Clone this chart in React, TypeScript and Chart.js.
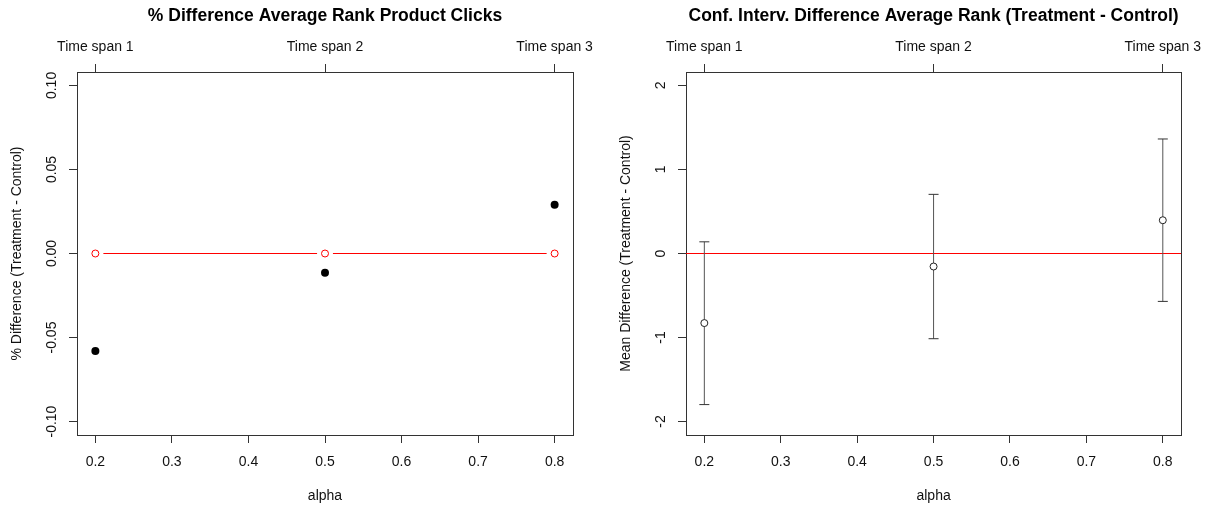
import React, { useEffect, useRef } from 'react';
import { Chart, registerables } from 'chart.js';

Chart.register(...registerables);

// ---------- data ----------
const ALPHAS = [0.2, 0.5, 0.8];
const TIME_SPAN_LABELS = ['Time span 1', 'Time span 2', 'Time span 3'];
const X_TICKS = [0.2, 0.3, 0.4, 0.5, 0.6, 0.7, 0.8];
const X_TICK_LABELS = ['0.2', '0.3', '0.4', '0.5', '0.6', '0.7', '0.8'];
const X_MIN = 0.176;
const X_MAX = 0.824;

const PCT_DIFF = [-0.058, -0.0115, 0.029];
const PCT_REFERENCE = [0, 0, 0];
const PCT_Y_TICKS = [-0.1, -0.05, 0, 0.05, 0.1];
const PCT_Y_TICK_LABELS = ['-0.10', '-0.05', '0.00', '0.05', '0.10'];
const PCT_Y_MIN = -0.108;
const PCT_Y_MAX = 0.108;

const MEAN_DIFF = [-0.828, -0.155, 0.396];
const CI_LOWER = [-1.798, -1.014, -0.57];
const CI_UPPER = [0.139, 0.704, 1.363];
const CI_Y_TICKS = [-2, -1, 0, 1, 2];
const CI_Y_TICK_LABELS = ['-2', '-1', '0', '1', '2'];
const CI_Y_MIN = -2.16;
const CI_Y_MAX = 2.16;
const ZERO_LINE = [0, 0];

const TITLE_LEFT = '% Difference Average Rank Product Clicks';
const TITLE_RIGHT = 'Conf. Interv. Difference Average Rank (Treatment - Control)';
const Y_TITLE_LEFT = '% Difference (Treatment - Control)';
const Y_TITLE_RIGHT = 'Mean Difference (Treatment - Control)';
const X_TITLE = 'alpha';

// ---------- styling ----------
const FONT = "'Liberation Sans', Arial, Helvetica, sans-serif";
const AXIS_COLOR = '#333333';
const TEXT_COLOR = '#111111';
const RED = '#ff0000';
const BAR_COLOR = '#555555';

type PanelCfg = {
  title: string;
  yTitle: string;
  yMin: number;
  yMax: number;
  yTicks: number[];
  yTickLabels: string[];
  leftWidth: number;
  rightPad: number;
  yLabelPad: number;
  yTitlePad: number;
};

function makeOptions(p: PanelCfg): any {
  const tickFont = { family: FONT, size: 14 };
  const setTicks = (vals: number[]) => (scale: any) => {
    scale.ticks = vals.map((v) => ({ value: v }));
  };
  const grid = () => ({
    display: true,
    drawOnChartArea: false,
    drawTicks: true,
    tickLength: 8,
    color: AXIS_COLOR,
    lineWidth: 1,
  });
  const border = () => ({ display: true, color: AXIS_COLOR, width: 1 });
  return {
    responsive: false,
    animation: false,
    events: [],
    layout: { padding: { left: 0, right: p.rightPad, top: 0, bottom: 0 } },
    plugins: {
      legend: { display: false },
      tooltip: { enabled: false },
      title: { display: false },
      colors: { enabled: false },
    },
    scales: {
      x: {
        type: 'linear',
        position: 'bottom',
        min: X_MIN,
        max: X_MAX,
        afterBuildTicks: setTicks(X_TICKS),
        afterFit: (s: any) => {
          s.height = 72;
        },
        ticks: {
          callback: (_v: any, i: number) => X_TICK_LABELS[i],
          font: tickFont,
          color: TEXT_COLOR,
          padding: 10.6,
          minRotation: 0,
          maxRotation: 0,
          autoSkip: false,
        },
        grid: grid(),
        border: border(),
        title: {
          display: true,
          text: X_TITLE,
          font: tickFont,
          color: TEXT_COLOR,
          padding: { top: 0, bottom: 2.6 },
        },
      },
      x2: {
        type: 'linear',
        position: 'top',
        min: X_MIN,
        max: X_MAX,
        afterBuildTicks: setTicks(ALPHAS),
        afterFit: (s: any) => {
          s.height = 72;
        },
        ticks: {
          callback: (_v: any, i: number) => TIME_SPAN_LABELS[i],
          font: tickFont,
          color: TEXT_COLOR,
          padding: 8.9,
          minRotation: 0,
          maxRotation: 0,
          autoSkip: false,
        },
        grid: grid(),
        border: border(),
        title: {
          display: true,
          text: p.title,
          font: { family: FONT, size: 17.5, weight: 'bold' },
          color: '#000000',
          padding: { top: 5.8, bottom: 0 },
        },
      },
      y: {
        type: 'linear',
        position: 'left',
        min: p.yMin,
        max: p.yMax,
        afterBuildTicks: setTicks(p.yTicks),
        afterFit: (s: any) => {
          s.width = p.leftWidth;
        },
        ticks: {
          callback: (_v: any, i: number) => p.yTickLabels[i],
          font: tickFont,
          color: TEXT_COLOR,
          padding: p.yLabelPad,
          minRotation: 90,
          maxRotation: 90,
          crossAlign: 'center',
          autoSkip: false,
        },
        grid: grid(),
        border: border(),
        title: {
          display: true,
          text: p.yTitle,
          font: tickFont,
          color: TEXT_COLOR,
          padding: { top: p.yTitlePad, bottom: 0 },
        },
      },
      y2: {
        type: 'linear',
        position: 'right',
        min: p.yMin,
        max: p.yMax,
        afterBuildTicks: setTicks(p.yTicks),
        afterFit: (s: any) => {
          s.width = 0;
        },
        ticks: { display: false },
        grid: { display: false, drawTicks: false },
        border: border(),
      },
    },
  };
}

function lineDataset(label: string, data: { x: number; y: number }[], color: string, order: number, extra: any = {}): any {
  return {
    type: 'line',
    label,
    xAxisID: 'x',
    yAxisID: 'y',
    data,
    borderColor: color,
    backgroundColor: color,
    borderWidth: 1,
    tension: 0,
    fill: false,
    pointRadius: 0,
    order,
    ...extra,
  };
}

function leftConfig(): any {
  const refPts = ALPHAS.map((a, i) => ({ x: a, y: PCT_REFERENCE[i] }));
  return {
    type: 'scatter',
    data: {
      datasets: [
        {
          type: 'scatter',
          label: 'difference',
          data: ALPHAS.map((a, i) => ({ x: a, y: PCT_DIFF[i] })),
          pointRadius: 4,
          pointBackgroundColor: '#000000',
          pointBorderColor: '#000000',
          pointBorderWidth: 0,
          showLine: false,
          order: 0,
        },
        {
          type: 'scatter',
          label: 'reference points',
          data: refPts,
          pointRadius: 3.5,
          pointBackgroundColor: '#ffffff',
          pointBorderColor: RED,
          pointBorderWidth: 1,
          showLine: false,
          order: 1,
        },
        {
          type: 'scatter',
          label: 'gap mask',
          data: refPts,
          pointRadius: 8,
          pointBackgroundColor: '#ffffff',
          pointBorderColor: '#ffffff',
          pointBorderWidth: 0,
          showLine: false,
          order: 2,
        },
        lineDataset('reference line', refPts, RED, 3),
      ],
    },
    options: makeOptions({
      title: TITLE_LEFT,
      yTitle: Y_TITLE_LEFT,
      yMin: PCT_Y_MIN,
      yMax: PCT_Y_MAX,
      yTicks: PCT_Y_TICKS,
      yTickLabels: PCT_Y_TICK_LABELS,
      leftWidth: 77,
      rightPad: 32,
      yLabelPad: 1,
      yTitlePad: 9.1,
    }),
  };
}

function rightConfig(): any {
  const errorBars = ALPHAS.map((a, i) =>
    lineDataset(
      'ci ' + i,
      [
        { x: a, y: CI_LOWER[i] },
        { x: a, y: CI_UPPER[i] },
      ],
      BAR_COLOR,
      1,
      {
        pointStyle: 'line',
        pointRadius: 5,
        pointBorderColor: '#333333',
        pointBackgroundColor: '#333333',
        pointBorderWidth: 1,
      }
    )
  );
  return {
    type: 'scatter',
    data: {
      datasets: [
        {
          type: 'scatter',
          label: 'mean',
          data: ALPHAS.map((a, i) => ({ x: a, y: MEAN_DIFF[i] })),
          pointRadius: 3.5,
          pointBackgroundColor: '#ffffff',
          pointBorderColor: '#222222',
          pointBorderWidth: 1,
          showLine: false,
          order: 0,
        },
        ...errorBars,
        lineDataset(
          'zero',
          [
            { x: X_MIN, y: ZERO_LINE[0] },
            { x: X_MAX, y: ZERO_LINE[1] },
          ],
          RED,
          2
        ),
      ],
    },
    options: makeOptions({
      title: TITLE_RIGHT,
      yTitle: Y_TITLE_RIGHT,
      yMin: CI_Y_MIN,
      yMax: CI_Y_MAX,
      yTicks: CI_Y_TICKS,
      yTickLabels: CI_Y_TICK_LABELS,
      leftWidth: 81,
      rightPad: 28,
      yLabelPad: 11.1,
      yTitlePad: 13.1,
    }),
  };
}

function Panel({ left, width, config }: { left: number; width: number; config: () => any }) {
  const ref = useRef<HTMLCanvasElement | null>(null);
  useEffect(() => {
    if (!ref.current) return;
    const chart = new Chart(ref.current, config());
    return () => chart.destroy();
  }, [config]);
  return (
    <canvas
      ref={ref}
      width={width}
      height={507}
      style={{ position: 'absolute', left, top: 0, width, height: 507 }}
    />
  );
}

export default function App() {
  return (
    <div
      style={{
        position: 'fixed',
        left: 0,
        top: 0,
        width: 1211,
        height: 507,
        background: '#ffffff',
        overflow: 'hidden',
      }}
    >
      <Panel left={0} width={605} config={leftConfig} />
      <Panel left={605} width={606} config={rightConfig} />
    </div>
  );
}
